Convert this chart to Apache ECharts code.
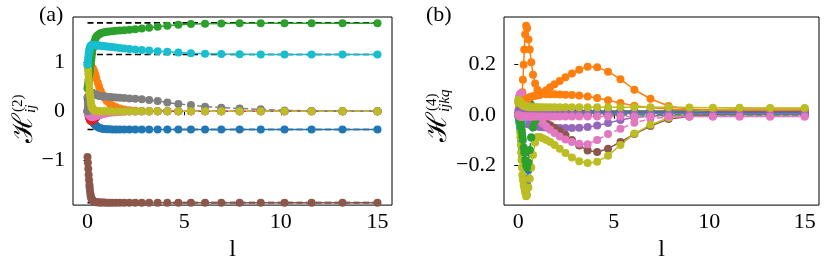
<!DOCTYPE html>
<html>
<head>
<meta charset="utf-8">
<script src="https://cdn.jsdelivr.net/npm/echarts@6/dist/echarts.min.js"></script>
<style>
html,body{margin:0;padding:0;background:#fff;}
#c{width:830px;height:267px;}
</style>
</head>
<body>
<div id="c"></div>
<script>
// flow time samples (shared by every curve)
const L = [
  0, 0.02, 0.04, 0.06, 0.08,
  0.10, 0.11, 0.13, 0.15, 0.17,
  0.19, 0.21, 0.24, 0.28, 0.31,
  0.36, 0.41, 0.46, 0.53, 0.60,
  0.68, 0.77, 0.88, 1.00, 1.14,
  1.29, 1.47, 1.67, 1.90, 2.17,
  2.47, 2.81, 3.19, 3.63, 4.13,
  4.70, 5.35, 6.08, 6.92, 7.87,
  8.96, 10.19, 11.59, 13.19, 15
];

// ---------- panel (a): H^(2)_ij ----------
const aBlue = [
  0.28, 0.24, 0.20, 0.15, 0.10,
  0.05, 0.02, -0.02, -0.06, -0.10,
  -0.13, -0.16, -0.19, -0.22, -0.24,
  -0.26, -0.28, -0.30, -0.32, -0.335,
  -0.345, -0.355, -0.362, -0.366, -0.368,
  -0.37, -0.37, -0.37, -0.37, -0.37,
  -0.37, -0.37, -0.37, -0.37, -0.37,
  -0.37, -0.37, -0.37, -0.37, -0.37,
  -0.37, -0.37, -0.37, -0.37, -0.37
];
const aOrange = [
  0, 0.15, 0.30, 0.45, 0.58,
  0.68, 0.73, 0.80, 0.85, 0.88,
  0.90, 0.90, 0.89, 0.87, 0.84,
  0.80, 0.74, 0.67, 0.58, 0.50,
  0.42, 0.34, 0.27, 0.21, 0.16,
  0.12, 0.085, 0.055, 0.035, 0.02,
  0.01, 0.005, 0.003, 0.002, 0.001,
  0, 0, 0, 0, 0,
  0, 0, 0, 0, 0
];
const aGreen = [
  0.47, 0.52, 0.58, 0.64, 0.70,
  0.77, 0.80, 0.86, 0.92, 0.98,
  1.04, 1.10, 1.18, 1.28, 1.34,
  1.42, 1.48, 1.52, 1.55, 1.57,
  1.59, 1.60, 1.61, 1.62, 1.625,
  1.63, 1.64, 1.645, 1.65, 1.66,
  1.67, 1.685, 1.70, 1.72, 1.74,
  1.76, 1.775, 1.785, 1.79, 1.793,
  1.795, 1.795, 1.795, 1.795, 1.795
];
const aRed = [
  0, -0.03, -0.06, -0.09, -0.12,
  -0.14, -0.15, -0.17, -0.18, -0.19,
  -0.20, -0.20, -0.20, -0.19, -0.18,
  -0.16, -0.14, -0.12, -0.09, -0.07,
  -0.05, -0.035, -0.025, -0.015, -0.01,
  -0.005, -0.002, -0.001, 0, 0,
  0, 0, 0, 0, 0,
  0, 0, 0, 0, 0,
  0, 0, 0, 0, 0
];
const aPurple = [
  0, -0.01, -0.02, -0.03, -0.04,
  -0.05, -0.055, -0.06, -0.065, -0.07,
  -0.07, -0.07, -0.068, -0.065, -0.06,
  -0.055, -0.05, -0.045, -0.038, -0.032,
  -0.026, -0.02, -0.015, -0.011, -0.008,
  -0.005, -0.003, -0.002, -0.001, 0,
  0, 0, 0, 0, 0,
  0, 0, 0, 0, 0,
  0, 0, 0, 0, 0
];
const aBrown = [
  -0.93, -1.05, -1.17, -1.29, -1.40,
  -1.50, -1.55, -1.62, -1.68, -1.73,
  -1.76, -1.78, -1.80, -1.82, -1.83,
  -1.84, -1.845, -1.85, -1.853, -1.855,
  -1.857, -1.858, -1.859, -1.86, -1.86,
  -1.86, -1.86, -1.86, -1.86, -1.86,
  -1.86, -1.86, -1.86, -1.86, -1.86,
  -1.86, -1.86, -1.86, -1.86, -1.86,
  -1.86, -1.86, -1.86, -1.86, -1.86
];
const aPink = [
  0, -0.02, -0.04, -0.055, -0.07,
  -0.08, -0.085, -0.09, -0.10, -0.105,
  -0.11, -0.11, -0.11, -0.11, -0.108,
  -0.105, -0.10, -0.095, -0.088, -0.08,
  -0.07, -0.06, -0.05, -0.04, -0.032,
  -0.025, -0.018, -0.013, -0.009, -0.006,
  -0.004, -0.003, -0.002, -0.001, 0,
  0, 0, 0, 0, 0,
  0, 0, 0, 0, 0
];
const aGray = [
  0.0, 0.08, 0.16, 0.23, 0.28,
  0.32, 0.34, 0.36, 0.37, 0.38,
  0.38, 0.38, 0.375, 0.37, 0.36,
  0.35, 0.34, 0.33, 0.32, 0.315,
  0.31, 0.305, 0.30, 0.295, 0.29,
  0.285, 0.28, 0.275, 0.27, 0.262,
  0.255, 0.243, 0.23, 0.21, 0.18,
  0.148, 0.126, 0.095, 0.073, 0.057,
  0.04, 0.018, 0.008, 0.003, 0.001
];
const aOlive = [
  0.93, 0.85, 0.76, 0.66, 0.56,
  0.46, 0.41, 0.33, 0.26, 0.20,
  0.15, 0.11, 0.07, 0.045, 0.03,
  0.02, 0.012, 0.008, 0.005, 0.003,
  0.002, 0.001, 0, 0, 0,
  0, 0, 0, 0, 0,
  0, 0, 0, 0, 0,
  0, 0, 0, 0, 0,
  0, 0, 0, 0, 0
];
const aCyan = [
  0.95, 1.02, 1.10, 1.17, 1.22,
  1.26, 1.28, 1.30, 1.32, 1.33,
  1.34, 1.345, 1.35, 1.35, 1.35,
  1.35, 1.35, 1.345, 1.34, 1.34,
  1.335, 1.33, 1.325, 1.32, 1.315,
  1.31, 1.30, 1.29, 1.28, 1.27,
  1.26, 1.25, 1.24, 1.225, 1.21,
  1.195, 1.18, 1.17, 1.165, 1.16,
  1.155, 1.155, 1.155, 1.155, 1.155
];
// exact eigenvalues (black dashed reference lines)
const exactE = [1.80, 1.155, -0.37, -1.86];
const exactL = [0, 15];

// ---------- panel (b): H^(4)_ijkq ----------
const bBlue1 = [
  0, -0.01, -0.02, -0.03, -0.04,
  -0.05, -0.06, -0.08, -0.10, -0.12,
  -0.14, -0.17, -0.21, -0.25, -0.28,
  -0.30, -0.30, -0.28, -0.22, -0.15,
  -0.09, -0.05, -0.025, -0.012, -0.006,
  -0.003, -0.001, 0, 0, 0,
  0, 0, 0, 0, 0,
  0, 0, 0, 0, 0,
  0, 0, 0, 0, 0
];
const bOrange1 = [
  0, 0.005, 0.01, 0.015, 0.02,
  0.025, 0.03, 0.035, 0.04, 0.045,
  0.05, 0.09, 0.14, 0.20, 0.26,
  0.32, 0.355, 0.345, 0.30, 0.26,
  0.21, 0.16, 0.125, 0.10, 0.09,
  0.085, 0.082, 0.082, 0.082, 0.081,
  0.08, 0.079, 0.077, 0.073, 0.067,
  0.058, 0.047, 0.036, 0.028, 0.023,
  0.02, 0.02, 0.019, 0.019, 0.019
];
const bGreen1 = [
  0, 0.003, 0.006, 0.01, 0.014,
  0.018, 0.02, 0.024, 0.028, 0.032,
  0.036, 0.04, 0.046, 0.053, 0.058,
  0.063, 0.066, 0.065, 0.058, 0.048,
  0.038, 0.03, 0.025, 0.022, 0.02,
  0.019, 0.018, 0.017, 0.016, 0.016,
  0.015, 0.015, 0.015, 0.015, 0.015,
  0.015, 0.015, 0.015, 0.015, 0.015,
  0.015, 0.015, 0.015, 0.015, 0.015
];
const bRed = [
  0, -0.005, -0.01, -0.014, -0.017,
  -0.019, -0.02, -0.02, -0.019, -0.017,
  -0.014, -0.011, -0.007, -0.002, 0.002,
  0.006, 0.009, 0.011, 0.012, 0.013,
  0.013, 0.013, 0.013, 0.013, 0.013,
  0.013, 0.013, 0.013, 0.013, 0.013,
  0.013, 0.013, 0.013, 0.013, 0.013,
  0.013, 0.013, 0.013, 0.013, 0.013,
  0.013, 0.013, 0.013, 0.013, 0.013
];
const bPurple1 = [
  0, -0.002, -0.004, -0.006, -0.008,
  -0.01, -0.011, -0.013, -0.015, -0.017,
  -0.019, -0.021, -0.024, -0.027, -0.029,
  -0.032, -0.034, -0.036, -0.038, -0.04,
  -0.042, -0.044, -0.046, -0.047, -0.049,
  -0.05, -0.051, -0.052, -0.053, -0.053,
  -0.053, -0.053, -0.052, -0.049, -0.043,
  -0.033, -0.021, -0.011, -0.005, -0.002,
  -0.001, 0, 0, 0, 0
];
const bBrown = [
  0, 0.003, 0.005, 0.007, 0.009,
  0.010, 0.011, 0.012, 0.013, 0.013,
  0.014, 0.014, 0.014, 0.014, 0.013,
  0.012, 0.010, 0.008, 0.005, 0.002,
  -0.002, -0.006, -0.010, -0.015, -0.020,
  -0.026, -0.033, -0.042, -0.052, -0.065,
  -0.080, -0.100, -0.122, -0.142, -0.148,
  -0.135, -0.108, -0.077, -0.045, -0.017,
  -0.007, 0.0, 0.003, 0.004, 0.005
];
const bPink1 = [
  0.05, 0.06, 0.07, 0.075, 0.08,
  0.083, 0.084, 0.085, 0.085, 0.084,
  0.082, 0.08, 0.076, 0.07, 0.065,
  0.057, 0.05, 0.043, 0.034, 0.025,
  0.016, 0.006, -0.004, -0.014, -0.025,
  -0.035, -0.047, -0.06, -0.073, -0.086,
  -0.098, -0.108, -0.115, -0.117, -0.10,
  -0.077, -0.056, -0.032, -0.016, -0.009,
  -0.007, -0.007, -0.007, -0.007, -0.007
];
const bOlive1 = [
  0.05, 0.03, 0.01, -0.01, -0.04,
  -0.07, -0.09, -0.12, -0.15, -0.18,
  -0.21, -0.24, -0.26, -0.28, -0.29,
  -0.31, -0.325, -0.32, -0.29, -0.255,
  -0.21, -0.16, -0.11, -0.088, -0.088,
  -0.093, -0.10, -0.108, -0.12, -0.135,
  -0.152, -0.17, -0.185, -0.192, -0.187,
  -0.163, -0.12, -0.075, -0.04, -0.012,
  0.01, 0.02, 0.024, 0.025, 0.025
];
const bCyan = [
  0, -0.01, -0.02, -0.03, -0.035,
  -0.04, -0.04, -0.04, -0.038, -0.035,
  -0.03, -0.025, -0.02, -0.015, -0.01,
  -0.007, -0.004, -0.002, 0, 0.002,
  0.004, 0.006, 0.008, 0.009, 0.01,
  0.01, 0.01, 0.01, 0.01, 0.01,
  0.01, 0.01, 0.01, 0.01, 0.01,
  0.01, 0.01, 0.01, 0.01, 0.01,
  0.01, 0.01, 0.01, 0.01, 0.01
];
const bBlue2 = [
  0, 0.002, 0.004, 0.006, 0.008,
  0.01, 0.01, 0.01, 0.01, 0.01,
  0.01, 0.01, 0.01, 0.01, 0.01,
  0.01, 0.01, 0.01, 0.01, 0.01,
  0.01, 0.01, 0.01, 0.01, 0.01,
  0.01, 0.01, 0.01, 0.01, 0.01,
  0.01, 0.01, 0.01, 0.01, 0.01,
  0.01, 0.01, 0.01, 0.01, 0.01,
  0.01, 0.01, 0.01, 0.01, 0.01
];
const bOrange2 = [
  0, 0.005, 0.01, 0.015, 0.02,
  0.024, 0.026, 0.03, 0.034, 0.038,
  0.041, 0.044, 0.048, 0.052, 0.055,
  0.058, 0.061, 0.064, 0.067, 0.07,
  0.072, 0.074, 0.076, 0.078, 0.08,
  0.088, 0.098, 0.11, 0.122, 0.135,
  0.15, 0.165, 0.18, 0.192, 0.19,
  0.172, 0.142, 0.10, 0.064, 0.035,
  0.022, 0.019, 0.018, 0.018, 0.018
];
const bGreen2 = [
  0, -0.005, -0.01, -0.015, -0.02,
  -0.025, -0.03, -0.04, -0.05, -0.06,
  -0.07, -0.085, -0.10, -0.13, -0.15,
  -0.18, -0.20, -0.21, -0.19, -0.14,
  -0.09, -0.05, -0.025, -0.01, -0.004,
  -0.001, 0, 0, 0, 0,
  0, 0, 0, 0, 0,
  0, 0, 0, 0, 0,
  0, 0, 0, 0, 0
];
const bPurple2 = [
  0.015, 0.015, 0.014, 0.013, 0.012,
  0.011, 0.010, 0.009, 0.008, 0.007,
  0.006, 0.005, 0.005, 0.005, 0.005,
  0.005, 0.005, 0.005, 0.005, 0.005,
  0.005, 0.005, 0.005, 0.005, 0.005,
  0.005, 0.005, 0.005, 0.005, 0.005,
  0.005, 0.005, 0.005, 0.005, 0.005,
  0.005, 0.005, 0.005, 0.005, 0.005,
  0.005, 0.005, 0.005, 0.005, 0.005
];
const bPink2 = [
  0, -0.002, -0.004, -0.005, -0.006,
  -0.007, -0.007, -0.007, -0.007, -0.007,
  -0.007, -0.007, -0.007, -0.007, -0.007,
  -0.007, -0.007, -0.007, -0.007, -0.007,
  -0.007, -0.007, -0.007, -0.007, -0.007,
  -0.007, -0.007, -0.007, -0.007, -0.007,
  -0.007, -0.007, -0.007, -0.007, -0.007,
  -0.007, -0.007, -0.007, -0.007, -0.007,
  -0.007, -0.007, -0.007, -0.007, -0.007
];
const bOlive2 = [
  0.06, 0.058, 0.056, 0.054, 0.052,
  0.05, 0.049, 0.047, 0.045, 0.043,
  0.041, 0.04, 0.038, 0.036, 0.035,
  0.034, 0.033, 0.032, 0.031, 0.03,
  0.03, 0.03, 0.03, 0.03, 0.03,
  0.03, 0.03, 0.03, 0.03, 0.03,
  0.03, 0.03, 0.03, 0.03, 0.03,
  0.03, 0.03, 0.03, 0.03, 0.03,
  0.029, 0.028, 0.028, 0.027, 0.027
];

// ticks
const xTicks = [0, 5, 10, 15];
const xTickLabels = ['0', '5', '10', '15'];
const aYTicks = [-1, 0, 1];
const aYTickLabels = ['\u22121', '0', '1'];
const bYTicks = [-0.2, 0, 0.2];
const bYTickLabels = ['\u22120.2', '0.0', '0.2'];

const C = {
  blue: '#1f77b4', orange: '#ff7f0e', green: '#2ca02c', red: '#d62728',
  purple: '#9467bd', brown: '#8c564b', pink: '#e377c2', gray: '#7f7f7f',
  olive: '#bcbd22', cyan: '#17becf'
};
const FONT = 'Liberation Serif, DejaVu Serif, serif';

function labelOf(ticks, labels) {
  return function (v) {
    for (let i = 0; i < ticks.length; i++) {
      if (Math.abs(ticks[i] - v) < 1e-9) return labels[i];
    }
    return '';
  };
}

function mk(arr, color, dashed, g) {
  return {
    type: 'line',
    xAxisIndex: g, yAxisIndex: g,
    data: L.map((x, i) => [x, arr[i]]),
    symbol: 'circle', symbolSize: 8, showSymbol: true, showAllSymbol: true,
    itemStyle: { color: color },
    lineStyle: { color: color, width: 1.5, type: dashed ? [6, 3] : 'solid' },
    silent: true, animation: false
  };
}

const series = [];
exactE.forEach(e => {
  series.push({
    type: 'line', xAxisIndex: 0, yAxisIndex: 0,
    data: exactL.map(x => [x, e]), showSymbol: false, symbol: 'none',
    lineStyle: { color: '#000', width: 1.6, type: [6, 3.5] }, silent: true, animation: false
  });
});
series.push(mk(aBlue, C.blue, false, 0));
series.push(mk(aOrange, C.orange, true, 0));
series.push(mk(aGreen, C.green, false, 0));
series.push(mk(aRed, C.red, true, 0));
series.push(mk(aPurple, C.purple, true, 0));
series.push(mk(aBrown, C.brown, false, 0));
series.push(mk(aPink, C.pink, true, 0));
series.push(mk(aGray, C.gray, true, 0));
series.push(mk(aOlive, C.olive, true, 0));
series.push(mk(aCyan, C.cyan, false, 0));

series.push(mk(bBlue1, C.blue, true, 1));
series.push(mk(bOrange1, C.orange, false, 1));
series.push(mk(bGreen1, C.green, false, 1));
series.push(mk(bRed, C.red, false, 1));
series.push(mk(bPurple1, C.purple, false, 1));
series.push(mk(bBrown, C.brown, false, 1));
series.push(mk(bPink1, C.pink, true, 1));
series.push(mk(bOlive1, C.olive, false, 1));
series.push(mk(bCyan, C.cyan, false, 1));
series.push(mk(bBlue2, C.blue, false, 1));
series.push(mk(bOrange2, C.orange, false, 1));
series.push(mk(bGreen2, C.green, true, 1));
series.push(mk(bPurple2, C.purple, false, 1));
series.push(mk(bPink2, C.pink, true, 1));
series.push(mk(bOlive2, C.olive, false, 1));

function xAxis(g) {
  return {
    gridIndex: g, type: 'value', min: -0.75, max: 15.75,
    axisLine: { show: false },
    axisTick: { show: true, inside: false, length: 4, customValues: xTicks, lineStyle: { color: '#000', width: 1 } },
    axisLabel: { customValues: xTicks, formatter: labelOf(xTicks, xTickLabels), fontFamily: FONT, fontSize: 22, color: '#000', margin: 6 },
    splitLine: { show: false },
    name: 'l', nameLocation: 'middle', nameGap: 27,
    nameTextStyle: { fontFamily: FONT, fontSize: 24, color: '#000' }
  };
}
function yAxis(g, min, max, ticks, labels) {
  return {
    gridIndex: g, type: 'value', min: min, max: max,
    axisLine: { show: false },
    axisTick: { show: true, inside: false, length: 4, customValues: ticks, lineStyle: { color: '#000', width: 1 } },
    axisLabel: { customValues: ticks, formatter: labelOf(ticks, labels), fontFamily: FONT, fontSize: 22, color: '#000', margin: 8 },
    splitLine: { show: false }
  };
}

function ylabel(x, y, sup, sub) {
  return {
    type: 'group', x: x, y: y, rotation: Math.PI / 2, silent: true,
    children: [
      { type: 'text', style: { text: '\u210B', x: 0, y: -9, align: 'right', verticalAlign: 'middle', font: '28px "DejaVu Serif", serif', fill: '#000' } },
      { type: 'text', style: { text: sup, x: 1, y: -16, align: 'left', verticalAlign: 'middle', font: '15px ' + FONT, fill: '#000' } },
      { type: 'text', style: { text: sub, x: 0, y: -3, align: 'left', verticalAlign: 'middle', font: 'italic 15px ' + FONT, fill: '#000' } }
    ]
  };
}

const option = {
  animation: false,
  backgroundColor: '#fff',
  title: [
    { text: '(a)', left: 39, top: 4, padding: 0, textStyle: { fontFamily: FONT, fontSize: 22, fontWeight: 'normal', color: '#000' } },
    { text: '(b)', left: 426, top: 4, padding: 0, textStyle: { fontFamily: FONT, fontSize: 22, fontWeight: 'normal', color: '#000' } }
  ],
  grid: [
    { left: 73, top: 17, width: 319, height: 195, show: true, borderColor: '#000', borderWidth: 1, backgroundColor: 'transparent' },
    { left: 504, top: 17, width: 315, height: 195, show: true, borderColor: '#000', borderWidth: 1, backgroundColor: 'transparent' }
  ],
  xAxis: [xAxis(0), xAxis(1)],
  yAxis: [
    yAxis(0, -1.91, 1.92, aYTicks, aYTickLabels),
    yAxis(1, -0.36, 0.39, bYTicks, bYTickLabels)
  ],
  graphic: [
    ylabel(34, 113, '(2)', 'ij'),
    ylabel(448, 112, '(4)', 'ijkq')
  ],
  series: series
};

const chart = echarts.init(document.getElementById('c'), null, { renderer: 'canvas' });
chart.setOption(option);
</script>
</body>
</html>
